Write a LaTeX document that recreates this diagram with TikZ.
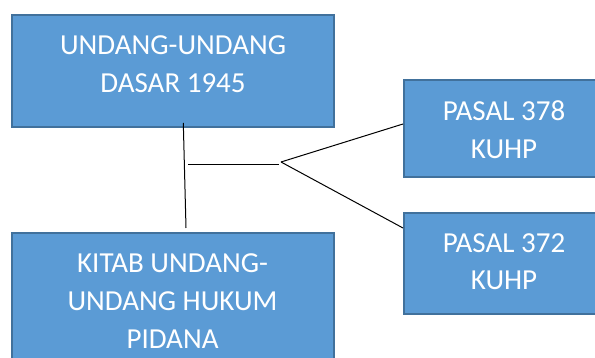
\documentclass[tikz,border=0pt]{standalone}
\usepackage{fontspec}
\setmainfont{Carlito}
\definecolor{boxfill}{HTML}{5B9BD5}
\definecolor{boxedge}{HTML}{41719C}
\begin{document}
\begin{tikzpicture}[x=1pt,y=-1pt,
  box/.style={draw=boxedge, fill=boxfill, line width=2pt, rectangle, outer sep=0pt, inner sep=0pt, anchor=north west},
  lbl/.style={text=white, font=\fontsize{29}{37.7}\selectfont, align=center, anchor=base, inner sep=0pt},
  conn/.style={draw=black, line width=1pt}]
\useasboundingbox (0,0) rectangle (595,358);
\clip (0,0) rectangle (595,358);
\node[box, minimum width=322pt, minimum height=112pt] (uud) at (12,15) {};
\node[box, minimum width=322pt, minimum height=200pt] (kuhp) at (12,233.5) {};
\node[box, minimum width=196pt, minimum height=97pt] (p378) at (404,80) {};
\node[box, minimum width=196pt, minimum height=101pt] (p372) at (404,213) {};
\node[lbl] (tuud) at (173,92.7) {UNDANG-UNDANG\\DASAR 1945};
\node[lbl] (tkuhp) at (172.5,348.3) {KITAB UNDANG-\\UNDANG HUKUM\\PIDANA};
\node[lbl] (t378) at (504,158.3) {PASAL 378\\KUHP};
\node[lbl] (t372) at (504,290) {PASAL 372\\KUHP};
\coordinate (v1) at (183.3,123);
\coordinate (v2) at (186,228);
\coordinate (h1) at (188,165);
\coordinate (h2) at (279,165);
\coordinate (j) at (281,162);
\coordinate (e1) at (403,124);
\coordinate (e2) at (403,228);
\draw[conn] (v1) -- (v2);
\draw[conn] (h1) -- (h2);
\draw[conn] (j) -- (e1);
\draw[conn] (j) -- (e2);
\end{tikzpicture}
\end{document}
